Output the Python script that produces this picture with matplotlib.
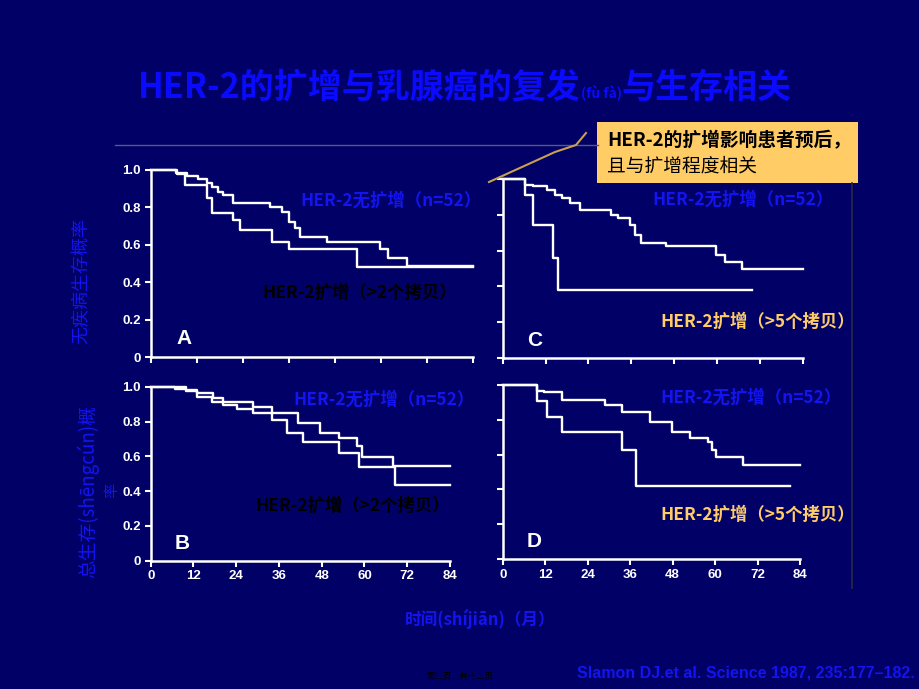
import matplotlib
matplotlib.use('Agg')
import matplotlib.pyplot as plt

plt.rcParams['font.family'] = ['Noto Sans CJK SC', 'DejaVu Sans']

# survival curves (months, probability)
a_no_t = [0, 6.6, 9.4, 12.4, 14.6, 15.9, 17.6, 18.9, 21.5, 31.1, 34.1, 35.9, 37.6, 38.9, 45.8, 59.7, 61.9, 66.7, 84]
a_no_s = [1.0, 0.985, 0.968, 0.95, 0.93, 0.91, 0.884, 0.866, 0.825, 0.80, 0.777, 0.723, 0.688, 0.643, 0.616, 0.575, 0.53, 0.487, 0.487]
a_amp_t = [0, 6.8, 8.9, 14.6, 15.9, 21.5, 23.3, 31.5, 35.9, 53.6, 84]
a_amp_s = [1.0, 0.98, 0.92, 0.85, 0.77, 0.73, 0.68, 0.616, 0.575, 0.48, 0.48]

c_no_t = [0, 6.2, 8.6, 12.3, 14.6, 16.5, 18.8, 21.6, 30.4, 32.3, 35.6, 37.0, 38.8, 45.8, 59.8, 62.1, 66.8, 84]
c_no_s = [1.0, 0.968, 0.959, 0.94, 0.912, 0.894, 0.866, 0.829, 0.801, 0.782, 0.745, 0.689, 0.642, 0.624, 0.577, 0.534, 0.497, 0.497]
c_amp_t = [0, 6.2, 8.4, 14.2, 15.5, 69.6]
c_amp_s = [1.0, 0.912, 0.745, 0.559, 0.382, 0.382]

b_no_t = [0, 9.9, 12.9, 17.6, 20.4, 28.6, 34.0, 41.4, 47.5, 52.9, 57.8, 59.2, 67.9, 84]
b_no_s = [1.0, 0.98, 0.966, 0.933, 0.914, 0.885, 0.85, 0.79, 0.736, 0.703, 0.659, 0.594, 0.546, 0.546]
b_amp_t = [0, 6.8, 9.9, 12.9, 17.1, 20.4, 24.1, 28.6, 34.0, 38.2, 42.7, 52.9, 58.6, 68.6, 84]
b_amp_s = [1.0, 0.985, 0.975, 0.94, 0.914, 0.895, 0.87, 0.847, 0.81, 0.736, 0.684, 0.617, 0.536, 0.435, 0.435]

d_no_t = [0, 9.6, 11.7, 16.7, 28.9, 33.6, 41.6, 47.7, 52.9, 58.1, 59.0, 60.3, 68.0, 84]
d_no_s = [1.0, 0.967, 0.96, 0.914, 0.885, 0.847, 0.79, 0.732, 0.694, 0.67, 0.627, 0.589, 0.541, 0.541]
d_amp_t = [0, 9.6, 12.6, 16.7, 33.6, 37.7, 81.2]
d_amp_s = [1.0, 0.91, 0.818, 0.728, 0.627, 0.42, 0.42]

x_ticks = [0, 12, 24, 36, 48, 60, 72, 84]
y_ticks = [0, 0.2, 0.4, 0.6, 0.8, 1.0]
y_ticklabels = ['0', '0.2', '0.4', '0.6', '0.8', '1.0']

W, H = 920, 689
bg = '#000066'
blue = '#1414f0'
title_blue = '#0a0aff'
yellow = '#ffcc66'

fig = plt.figure(figsize=(W / 100, H / 100), dpi=100, facecolor=bg)


def px_box(x0, x1, ytop, ybot):
    return [x0 / W, 1 - ybot / H, (x1 - x0) / W, (ybot - ytop) / H]


def ftext(x, y, s, **kw):
    return fig.text(x / W, 1 - y / H, s, **kw)


def panel(box, curves, letter, show_y, show_x):
    ax = fig.add_axes(box)
    ax.set_facecolor('none')
    for t, s in curves:
        ax.step(t, s, where='post', color='white', lw=1.7, clip_on=False)
    ax.set_xlim(0, 84)
    ax.set_ylim(0, 1)
    for side in ['top', 'right']:
        ax.spines[side].set_visible(False)
    for side in ['left', 'bottom']:
        ax.spines[side].set_color('white')
        ax.spines[side].set_linewidth(1.8)
    ax.tick_params(colors='white', direction='out', length=4, width=1.5, labelsize=9.5, pad=3)
    tick_font = dict(fontweight='bold', family=['Liberation Sans', 'DejaVu Sans'])
    if show_x:
        ax.set_xticks(x_ticks, [str(v) for v in x_ticks], **tick_font)
    else:
        ax.set_xticks(x_ticks, [])
    if show_y:
        ax.set_yticks(y_ticks, y_ticklabels, **tick_font)
    else:
        ax.set_yticks(y_ticks, [])
    ax.text(0.08, 0.1, letter, transform=ax.transAxes, color='white', fontsize=15,
            fontweight='bold', family=['Liberation Sans', 'DejaVu Sans'], ha='left', va='center')
    return ax


panel(px_box(150.7, 473.3, 170, 357), [(a_no_t, a_no_s), (a_amp_t, a_amp_s)], 'A', True, False)
panel(px_box(502.7, 803, 179, 358), [(c_no_t, c_no_s), (c_amp_t, c_amp_s)], 'C', False, False)
panel(px_box(150.7, 450, 386.7, 560.7), [(b_no_t, b_no_s), (b_amp_t, b_amp_s)], 'B', True, True)
panel(px_box(502.7, 800, 385, 559), [(d_no_t, d_no_s), (d_amp_t, d_amp_s)], 'D', False, True)

# title, built from three pieces
t1 = ftext(138, 87, 'HER-2的扩增与乳腺癌的复发', color=title_blue, fontsize=24.5, fontweight='bold', va='center')
t2 = plt.annotate('(fù fà)', xy=(1, 0.12), xycoords=t1, color=title_blue, fontsize=10,
                  fontweight='bold', va='bottom', ha='left')
plt.annotate('与生存相关', xy=(1, 0.0), xycoords=(t2, t1), color=title_blue, fontsize=24.5,
             fontweight='bold', va='bottom', ha='left')

# separator line, callout and its leader
fig.add_artist(plt.Line2D([115 / W, 598 / W], [1 - 145 / H, 1 - 145 / H], color='#5a5a78', lw=1))
fig.add_artist(plt.Line2D([852 / W, 852 / W], [1 - 183 / H, 1 - 588 / H], color='#2a2a44', lw=1.2))
fig.add_artist(plt.Rectangle((597 / W, 1 - 183 / H), 261 / W, 61 / H, facecolor=yellow,
                             edgecolor='none', transform=fig.transFigure))
lead_x = [489, 555, 576, 586]
lead_y = [182, 152, 145, 133]
fig.add_artist(plt.Line2D([v / W for v in lead_x], [1 - v / H for v in lead_y], color='#c8a050', lw=1.5))
ftext(607, 141, 'HER-2的扩增影响患者预后，', color='black', fontsize=13.5, fontweight='bold', va='center')
ftext(607, 166, '且与扩增程度相关', color='black', fontsize=13.5, va='center')

# curve labels
lab = dict(fontsize=12.5, fontweight='bold', va='center', ha='left')
ftext(300, 201, 'HER-2无扩增（n=52）', color=blue, **lab)
ftext(262, 293, 'HER-2扩增（>2个拷贝）', color='black', **lab)
ftext(652, 200, 'HER-2无扩增（n=52）', color=blue, **lab)
ftext(660, 322, 'HER-2扩增（>5个拷贝）', color=yellow, **lab)
ftext(293, 400, 'HER-2无扩增（n=52）', color=blue, **lab)
ftext(255, 506, 'HER-2扩增（>2个拷贝）', color='black', **lab)
ftext(660, 398, 'HER-2无扩增（n=52）', color=blue, **lab)
ftext(660, 515, 'HER-2扩增（>5个拷贝）', color=yellow, **lab)

# axis titles
ftext(82, 281, '无疾病生存概率', color=blue, fontsize=13, rotation=90, ha='center', va='center')
ftext(88, 492, '总生存(shēngcún)概', color=blue, fontsize=13.5, rotation=90, ha='center', va='center')
ftext(112, 490, '率', color=blue, fontsize=11, rotation=90, ha='center', va='center')
ftext(480, 619, '时间(shíjiān)（月）', color=blue, fontsize=12, fontweight='bold', ha='center', va='center')

ftext(915, 673, 'Slamon DJ.et al. Science 1987, 235:177–182.', color=blue, fontsize=11.5,
      fontweight='bold', family=['Liberation Sans', 'DejaVu Sans'], ha='right', va='center')
ftext(460, 677, '第三页，共十二页', color='black', fontsize=6, ha='center', va='center')

fig.savefig('out.png', dpi=100, facecolor=bg)
